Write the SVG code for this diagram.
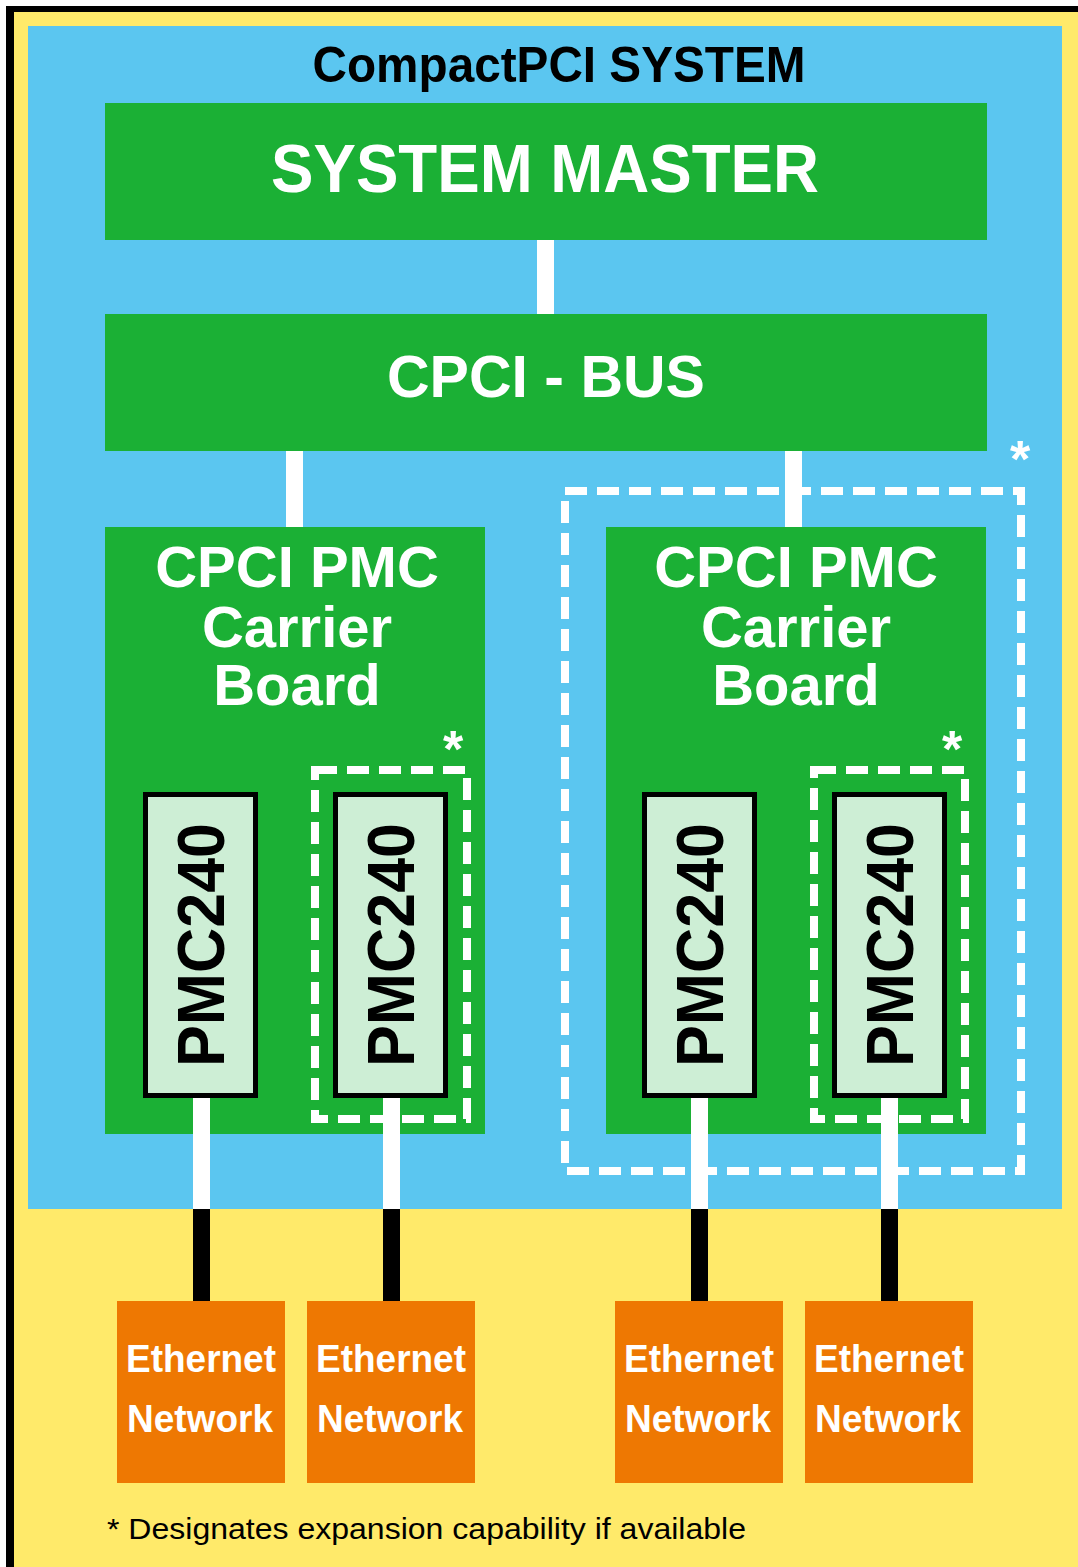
<svg xmlns="http://www.w3.org/2000/svg" width="1078" height="1567" viewBox="0 0 1078 1567">
<style>
text{font-family:"Liberation Sans",Arial,Helvetica,sans-serif;font-weight:bold;}
.g{fill:#1BB035;}
.w{fill:#FFFFFF;text-anchor:middle;}
.pmc{fill:#CDEED5;stroke:#000;stroke-width:5;}
.pt{fill:#000;text-anchor:middle;font-size:66px;}
.eth{fill:#EE7802;}
.et{fill:#FFFFFF;text-anchor:middle;font-size:39px;}
.dash{fill:none;stroke:#FFFFFF;stroke-width:8;stroke-dasharray:22 10;}
.star{fill:#FFFFFF;text-anchor:middle;font-size:52px;}
.wl{fill:#FFFFFF;}
.bl{fill:#000000;}
</style>
<rect x="0" y="0" width="1078" height="1567" fill="#FFFFFF"/>
<rect x="6" y="6" width="1072" height="1561" fill="#000000"/>
<rect x="14" y="12" width="1064" height="1555" fill="#FFEA6A"/>
<g id="system">
<rect x="28" y="26" width="1034" height="1183" fill="#5BC6F0"/>
<text x="559" y="82" font-size="50" fill="#000" text-anchor="middle" textLength="493" lengthAdjust="spacingAndGlyphs">CompactPCI SYSTEM</text>
</g>
<g id="connectors">
<rect class="wl" x="537" y="240" width="17" height="74"/>
<rect class="wl" x="286" y="451" width="17" height="77"/>
<rect class="wl" x="785" y="451" width="17" height="77"/>
</g>
<g id="system-master">
<rect class="g" x="105" y="103" width="882" height="137"/>
<text class="w" x="545" y="192" font-size="68" textLength="548" lengthAdjust="spacingAndGlyphs">SYSTEM MASTER</text>
</g>
<g id="cpci-bus">
<rect class="g" x="105" y="314" width="882" height="137"/>
<text class="w" x="546" y="397" font-size="59">CPCI - BUS</text>
</g>
<g id="carrier-1">
<rect class="g" x="105" y="527" width="380" height="607"/>
<text class="w" x="297" y="587" font-size="58">CPCI PMC</text>
<text class="w" x="297" y="647" font-size="58">Carrier</text>
<text class="w" x="297" y="705" font-size="58">Board</text>
<rect class="dash" x="315" y="770" width="152" height="349"/>
<text class="star" x="453" y="767">*</text>
</g>
<g id="expansion-outer">
<rect class="dash" x="565" y="491" width="456" height="680"/>
<text class="star" x="1020" y="477">*</text>
</g>
<g id="carrier-2">
<rect class="g" x="606" y="527" width="380" height="607"/>
<text class="w" x="796" y="587" font-size="58">CPCI PMC</text>
<text class="w" x="796" y="647" font-size="58">Carrier</text>
<text class="w" x="796" y="705" font-size="58">Board</text>
<rect class="dash" x="814" y="770" width="151" height="349"/>
<text class="star" x="952" y="767">*</text>
</g>
<g id="connectors-pmc">
<rect class="wl" x="193" y="1096" width="17" height="113"/>
<rect class="bl" x="193" y="1209" width="17" height="92"/>
<rect class="wl" x="383" y="1096" width="17" height="113"/>
<rect class="bl" x="383" y="1209" width="17" height="92"/>
<rect class="wl" x="691" y="1096" width="17" height="113"/>
<rect class="bl" x="691" y="1209" width="17" height="92"/>
<rect class="wl" x="881" y="1096" width="17" height="113"/>
<rect class="bl" x="881" y="1209" width="17" height="92"/>
</g>
<g id="pmc-1">
<rect class="pmc" x="145.5" y="794.5" width="110" height="301"/>
<text class="pt" transform="translate(224,945) rotate(-90)" textLength="244" lengthAdjust="spacingAndGlyphs">PMC240</text>
</g>
<g id="pmc-2">
<rect class="pmc" x="335.5" y="794.5" width="110" height="301"/>
<text class="pt" transform="translate(414,945) rotate(-90)" textLength="244" lengthAdjust="spacingAndGlyphs">PMC240</text>
</g>
<g id="pmc-3">
<rect class="pmc" x="644.5" y="794.5" width="110" height="301"/>
<text class="pt" transform="translate(723,945) rotate(-90)" textLength="244" lengthAdjust="spacingAndGlyphs">PMC240</text>
</g>
<g id="pmc-4">
<rect class="pmc" x="834.5" y="794.5" width="110" height="301"/>
<text class="pt" transform="translate(913,945) rotate(-90)" textLength="244" lengthAdjust="spacingAndGlyphs">PMC240</text>
</g>
<g id="eth-1">
<rect class="eth" x="117" y="1301" width="168" height="182"/>
<text class="et" x="201" y="1372" textLength="150" lengthAdjust="spacingAndGlyphs">Ethernet</text>
<text class="et" x="200" y="1432" textLength="146" lengthAdjust="spacingAndGlyphs">Network</text>
</g>
<g id="eth-2">
<rect class="eth" x="307" y="1301" width="168" height="182"/>
<text class="et" x="391" y="1372" textLength="150" lengthAdjust="spacingAndGlyphs">Ethernet</text>
<text class="et" x="390" y="1432" textLength="146" lengthAdjust="spacingAndGlyphs">Network</text>
</g>
<g id="eth-3">
<rect class="eth" x="615" y="1301" width="168" height="182"/>
<text class="et" x="699" y="1372" textLength="150" lengthAdjust="spacingAndGlyphs">Ethernet</text>
<text class="et" x="698" y="1432" textLength="146" lengthAdjust="spacingAndGlyphs">Network</text>
</g>
<g id="eth-4">
<rect class="eth" x="805" y="1301" width="168" height="182"/>
<text class="et" x="889" y="1372" textLength="150" lengthAdjust="spacingAndGlyphs">Ethernet</text>
<text class="et" x="888" y="1432" textLength="146" lengthAdjust="spacingAndGlyphs">Network</text>
</g>
<g id="footnote">
<text x="107" y="1539" font-size="30" font-weight="normal" style="font-weight:normal" fill="#000" textLength="639" lengthAdjust="spacingAndGlyphs">* Designates expansion capability if available</text>
</g>
</svg>
